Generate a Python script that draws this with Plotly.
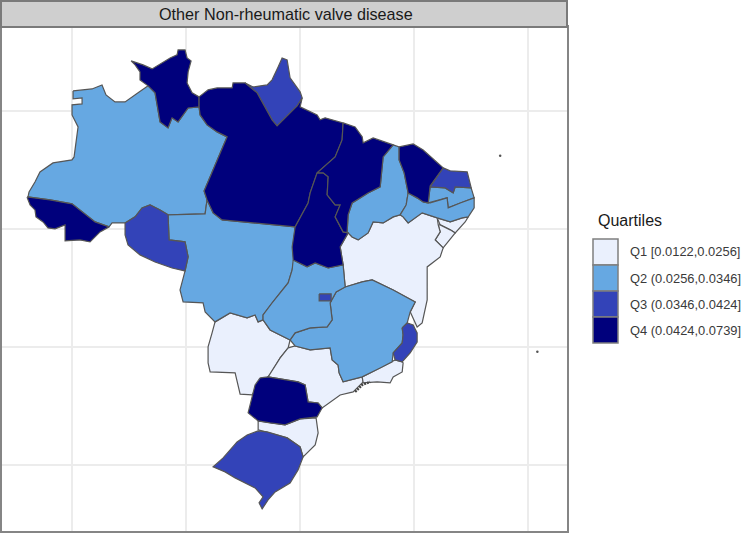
import plotly.graph_objects as go

TITLE = "Other Non-rheumatic valve disease"
LEGEND_TITLE = "Quartiles"
QUARTILE_LABELS = ["Q1 [0.0122,0.0256]", "Q2 (0.0256,0.0346]", "Q3 (0.0346,0.0424]", "Q4 (0.0424,0.0739]"]
QUARTILE_COLORS = ["#eaf0fd", "#66a8e2", "#3343b8", "#00007c"]

RR = [(-64.82,4.24),(-63.77,3.90),(-62.98,3.56),(-62.02,4.15),(-61.40,4.49),(-60.79,4.75),(-60.70,5.17),(-60.09,5.17),(-59.91,4.49),(-59.56,4.24),(-59.82,3.31),(-59.91,2.37),(-59.47,1.53),(-58.86,1.19),(-58.86,0.34),(-59.82,0.25),(-60.26,-0.34),(-60.70,-0.93),(-61.23,-0.59),(-61.58,-1.44),(-62.28,-0.93),(-62.46,0.25),(-62.72,1.53),(-63.33,2.12),(-64.04,2.63),(-64.04,3.31),(-64.47,3.90)]
AM = [(-69.91,1.69),(-68.25,1.86),(-67.37,2.20),(-67.02,1.36),(-66.23,0.76),(-65.35,0.76),(-64.21,1.53),(-63.33,2.12),(-62.72,1.53),(-62.46,0.25),(-62.28,-0.93),(-61.58,-1.44),(-61.23,-0.59),(-60.70,-0.93),(-60.26,-0.34),(-59.82,0.25),(-58.86,0.34),(-58.77,-0.34),(-58.16,-1.19),(-57.28,-1.78),(-56.40,-2.20),(-57.28,-4.15),(-58.42,-6.78),(-58.16,-7.54),(-58.33,-8.73),(-61.58,-8.81),(-62.28,-8.39),(-63.16,-7.97),(-63.86,-8.22),(-64.47,-8.98),(-65.35,-9.49),(-66.49,-9.49),(-66.75,-9.83),(-67.98,-9.41),(-69.04,-8.64),(-70.00,-7.88),(-71.93,-7.54),(-73.86,-7.29),(-73.77,-6.86),(-73.25,-6.02),(-72.81,-5.17),(-71.67,-4.41),(-70.00,-4.15),(-69.82,-3.90),(-69.47,-1.36),(-70.00,-0.34),(-70.00,0.51),(-69.12,0.59),(-69.12,1.10),(-69.91,1.02)]
AC = [(-73.95,-7.29),(-71.93,-7.54),(-70.00,-7.88),(-69.04,-8.64),(-67.98,-9.41),(-66.75,-9.83),(-67.54,-10.25),(-68.42,-11.10),(-69.30,-10.93),(-70.61,-11.02),(-70.61,-9.66),(-71.49,-10.00),(-72.11,-9.92),(-72.54,-9.41),(-73.16,-8.98),(-73.25,-8.39),(-73.68,-7.97)]
RO = [(-65.35,-9.49),(-64.47,-8.98),(-63.86,-8.22),(-63.16,-7.97),(-62.28,-8.39),(-61.58,-8.81),(-61.49,-10.93),(-60.09,-11.10),(-59.82,-12.37),(-60.09,-13.56),(-61.23,-13.31),(-62.72,-12.80),(-64.04,-12.20),(-65.09,-11.36),(-65.35,-10.51)]
MT = [(-61.58,-8.81),(-58.33,-8.73),(-58.16,-7.54),(-57.63,-8.64),(-56.84,-9.24),(-54.12,-9.49),(-50.44,-9.83),(-50.61,-11.53),(-50.53,-12.63),(-50.70,-13.47),(-51.05,-14.58),(-51.75,-15.42),(-52.46,-16.27),(-53.25,-17.29),(-53.25,-17.71),(-53.68,-17.88),(-53.95,-17.29),(-54.65,-17.54),(-56.14,-17.12),(-57.46,-17.88),(-58.33,-17.03),(-58.51,-16.27),(-60.26,-16.19),(-60.53,-15.17),(-60.09,-13.56),(-59.82,-12.37),(-60.09,-11.10),(-61.49,-10.93)]
PA = [(-58.86,1.19),(-58.07,1.78),(-57.28,1.95),(-55.96,1.95),(-55.88,2.37),(-54.82,2.37),(-53.77,1.53),(-53.07,0.34),(-52.46,-0.76),(-52.02,-1.27),(-51.32,-0.59),(-50.26,0.42),(-49.82,1.10),(-50.00,0.34),(-48.51,-0.34),(-48.25,-0.76),(-47.81,-0.59),(-46.23,-1.02),(-46.32,-2.46),(-46.93,-3.90),(-48.51,-5.25),(-49.12,-6.95),(-49.30,-7.80),(-50.44,-9.83),(-54.12,-9.49),(-56.84,-9.24),(-57.63,-8.64),(-58.16,-7.54),(-58.42,-6.78),(-57.28,-4.15),(-56.40,-2.20),(-57.28,-1.78),(-58.16,-1.19),(-58.77,-0.34),(-58.86,0.34)]
AP = [(-54.82,2.37),(-54.12,2.03),(-52.89,2.20),(-52.46,2.63),(-51.93,3.73),(-51.58,4.49),(-51.14,4.32),(-50.88,2.80),(-50.00,1.61),(-49.82,1.10),(-50.26,0.42),(-51.32,-0.59),(-52.02,-1.27),(-52.46,-0.76),(-53.07,0.34),(-53.77,1.53)]
TO = [(-48.51,-5.25),(-47.98,-5.25),(-47.54,-5.59),(-47.63,-7.12),(-46.93,-7.97),(-46.49,-7.97),(-46.93,-8.98),(-46.23,-10.25),(-45.79,-10.34),(-46.49,-11.53),(-46.23,-13.05),(-47.54,-13.31),(-48.68,-12.88),(-49.39,-13.22),(-50.61,-12.63),(-50.70,-11.53),(-50.44,-9.83),(-49.30,-7.80),(-49.12,-6.95)]
MA = [(-46.23,-1.02),(-45.18,-1.36),(-44.56,-2.20),(-44.47,-2.71),(-43.60,-2.29),(-41.84,-2.88),(-42.72,-3.90),(-42.81,-4.74),(-42.98,-6.44),(-44.04,-6.95),(-45.44,-7.80),(-45.79,-8.81),(-45.88,-10.25),(-45.79,-10.34),(-46.23,-10.25),(-46.93,-8.98),(-46.49,-7.97),(-46.93,-7.97),(-47.63,-7.12),(-47.54,-5.59),(-47.98,-5.25),(-48.51,-5.25),(-46.93,-3.90),(-46.32,-2.46)]
PI = [(-41.84,-2.88),(-41.32,-3.05),(-41.32,-4.15),(-40.88,-5.25),(-40.53,-6.95),(-40.70,-7.97),(-41.23,-8.81),(-41.84,-8.98),(-42.72,-9.49),(-43.60,-9.41),(-44.04,-10.34),(-44.91,-10.93),(-45.44,-10.68),(-45.79,-10.34),(-45.88,-10.25),(-45.79,-8.81),(-45.44,-7.80),(-44.04,-6.95),(-42.98,-6.44),(-42.81,-4.74),(-42.72,-3.90)]
CE = [(-41.32,-3.05),(-40.09,-2.80),(-39.21,-3.31),(-37.46,-4.83),(-38.60,-6.36),(-38.77,-7.80),(-39.21,-7.71),(-39.74,-7.37),(-40.53,-6.95),(-40.88,-5.25),(-41.32,-4.15)]
RN = [(-37.46,-4.83),(-36.84,-5.08),(-35.35,-5.17),(-35.00,-6.53),(-36.40,-6.44),(-36.58,-6.95),(-37.28,-6.53),(-38.60,-6.44)]
PB = [(-38.60,-6.44),(-37.28,-6.53),(-36.58,-6.95),(-36.40,-6.44),(-35.00,-6.53),(-34.74,-7.37),(-35.96,-7.80),(-37.02,-8.22),(-37.11,-7.37),(-38.60,-7.80),(-38.77,-7.80)]
PE = [(-40.70,-7.97),(-40.53,-6.95),(-39.74,-7.37),(-39.21,-7.71),(-38.77,-7.80),(-38.60,-7.80),(-37.11,-7.37),(-37.02,-8.22),(-35.96,-7.80),(-34.74,-7.37),(-34.74,-8.22),(-35.26,-8.98),(-35.79,-9.07),(-36.84,-9.41),(-37.98,-9.07),(-39.30,-8.64),(-40.53,-9.49),(-40.97,-8.98),(-41.23,-8.81)]
AL = [(-37.98,-9.07),(-36.84,-9.41),(-35.79,-9.07),(-35.26,-8.98),(-35.53,-9.41),(-36.40,-10.34),(-36.84,-10.08),(-37.72,-9.66)]
SE = [(-37.89,-9.66),(-37.72,-9.66),(-36.84,-10.08),(-36.40,-10.34),(-37.46,-11.61),(-38.16,-10.93),(-37.72,-10.25)]
BA = [(-45.79,-10.34),(-45.44,-10.68),(-44.91,-10.93),(-44.04,-10.34),(-43.60,-9.41),(-42.72,-9.49),(-41.84,-8.98),(-41.23,-8.81),(-40.97,-8.98),(-40.53,-9.49),(-39.30,-8.64),(-37.98,-9.07),(-37.89,-9.66),(-37.72,-10.25),(-38.16,-10.93),(-37.46,-11.61),(-37.72,-12.37),(-38.86,-13.22),(-38.86,-16.02),(-39.12,-17.29),(-39.30,-17.97),(-39.74,-18.31),(-40.35,-17.03),(-39.91,-16.19),(-41.84,-15.17),(-43.68,-14.32),(-44.56,-14.49),(-46.05,-14.92),(-46.23,-13.05),(-46.49,-11.53)]
ES = [(-41.05,-18.39),(-40.61,-17.97),(-40.09,-18.14),(-39.74,-18.81),(-39.74,-19.58),(-40.35,-20.51),(-41.05,-21.27),(-41.67,-21.10),(-41.84,-20.51),(-41.05,-19.66),(-40.97,-18.98)]
MG = [(-46.05,-14.92),(-44.56,-14.49),(-43.68,-14.32),(-41.84,-15.17),(-39.91,-16.19),(-40.35,-17.03),(-40.61,-17.97),(-41.05,-18.39),(-40.97,-18.98),(-41.05,-19.66),(-41.84,-20.51),(-41.93,-21.27),(-42.98,-21.78),(-44.56,-22.54),(-46.23,-22.96),(-46.58,-22.20),(-46.67,-21.53),(-47.19,-21.10),(-47.37,-20.08),(-49.12,-20.25),(-50.44,-19.92),(-50.88,-19.41),(-50.44,-18.81),(-49.12,-18.39),(-47.63,-18.31),(-47.19,-17.71),(-47.37,-16.27),(-46.84,-15.34),(-46.23,-15.00)]
GO = [(-50.61,-12.63),(-49.39,-13.22),(-48.68,-12.88),(-47.54,-13.31),(-46.23,-13.05),(-46.05,-14.92),(-46.84,-15.34),(-47.37,-16.27),(-47.19,-17.71),(-47.63,-18.31),(-49.12,-18.39),(-50.44,-18.81),(-50.88,-19.41),(-52.63,-18.56),(-53.25,-17.71),(-53.25,-17.29),(-52.46,-16.27),(-51.75,-15.42),(-51.05,-14.58),(-50.70,-13.47)]
DF = [(-48.33,-15.51),(-47.28,-15.51),(-47.28,-16.10),(-48.33,-16.10)]
MS = [(-57.46,-17.88),(-56.14,-17.12),(-54.65,-17.54),(-53.95,-17.29),(-53.68,-17.88),(-53.25,-17.71),(-52.63,-18.56),(-50.88,-19.41),(-51.05,-20.08),(-51.75,-20.93),(-52.63,-22.37),(-53.68,-23.22),(-54.21,-24.07),(-55.26,-24.00),(-55.70,-22.20),(-57.89,-22.12),(-58.07,-21.36),(-58.07,-20.00),(-57.72,-18.81)]
SP = [(-51.05,-20.08),(-50.44,-19.92),(-49.12,-20.25),(-47.37,-20.08),(-47.19,-21.10),(-46.67,-21.53),(-46.58,-22.20),(-46.23,-22.96),(-44.56,-22.54),(-44.47,-22.96),(-45.35,-23.81),(-46.49,-24.07),(-48.07,-25.17),(-48.42,-24.75),(-49.30,-24.66),(-49.56,-23.22),(-50.18,-22.96),(-52.81,-22.54),(-51.75,-20.93)]
RJ = [(-44.56,-22.54),(-42.98,-21.78),(-41.93,-21.27),(-41.67,-21.10),(-41.05,-21.27),(-40.97,-21.36),(-41.05,-22.12),(-41.84,-22.54),(-42.11,-23.05),(-43.25,-22.96),(-44.47,-23.05)]
PR = [(-53.51,-22.63),(-52.81,-22.54),(-50.18,-22.96),(-49.56,-23.22),(-49.30,-24.66),(-48.42,-24.75),(-48.07,-25.17),(-48.51,-25.93),(-50.00,-26.10),(-51.32,-26.61),(-52.63,-26.44),(-53.68,-26.27),(-54.56,-25.59),(-54.21,-24.07),(-53.95,-23.22)]
SC = [(-53.68,-26.27),(-52.63,-26.44),(-51.32,-26.61),(-50.00,-26.10),(-48.60,-26.02),(-48.42,-27.29),(-48.68,-28.31),(-49.74,-29.32),(-50.00,-28.47),(-51.14,-27.71),(-52.89,-27.20),(-53.68,-27.03)]
RS = [(-53.68,-27.12),(-52.89,-27.20),(-51.14,-27.71),(-50.00,-28.47),(-49.74,-29.32),(-50.18,-30.42),(-50.88,-31.53),(-52.19,-32.29),(-52.81,-32.97),(-53.33,-33.73),(-53.60,-33.22),(-53.25,-32.71),(-53.95,-31.95),(-55.70,-31.10),(-56.58,-30.59),(-57.63,-30.17),(-56.75,-29.41),(-55.53,-28.05),(-54.65,-27.46)]

ISLAND_LON = [-32.46, -29.20]
ISLAND_LAT = [-3.81, -20.42]
BAY_ISLANDS = [(-45.18,-23.81),(-44.56,-23.22),(-43.86,-22.96)]

Q1_STATES = {"AL": AL, "SE": SE, "BA": BA, "MS": MS, "SP": SP, "RJ": RJ, "SC": SC}
Q2_STATES = {"AM": AM, "MT": MT, "PI": PI, "PB": PB, "PE": PE, "MG": MG, "GO": GO}
Q3_STATES = {"RO": RO, "AP": AP, "RN": RN, "ES": ES, "DF": DF, "RS": RS}
Q4_STATES = {"RR": RR, "AC": AC, "PA": PA, "TO": TO, "MA": MA, "CE": CE, "PR": PR}
GROUPS = [Q1_STATES, Q2_STATES, Q3_STATES, Q4_STATES]

BORDER = "#565656"
fig = go.Figure()
for group, color, label in zip(GROUPS, QUARTILE_COLORS, QUARTILE_LABELS):
    for code, pts in group.items():
        xs = [p[0] for p in pts] + [pts[0][0]]
        ys = [p[1] for p in pts] + [pts[0][1]]
        fig.add_trace(go.Scatter(x=xs, y=ys, mode="lines", fill="toself", fillcolor=color,
                                 line=dict(color=BORDER, width=1.2), name=code, text=label,
                                 hoverinfo="name+text", showlegend=False))

fig.add_trace(go.Scatter(x=[p[0] for p in BAY_ISLANDS], y=[p[1] for p in BAY_ISLANDS], mode="lines",
                         line=dict(color="#444444", width=2.5, dash="2px,1px"), showlegend=False, hoverinfo="skip"))
fig.add_trace(go.Scatter(x=ISLAND_LON, y=ISLAND_LAT, mode="markers",
                         marker=dict(color="#555555", size=2.5), showlegend=False, hoverinfo="skip"))

# panel geometry in page pixels
L, R, T, B = 2, 567, 27, 531
W, H = 750, 541
def px(x): return (x - L) / (R - L)
def py(y): return (B - y) / (B - T)

shapes = [dict(type="rect", xref="paper", yref="paper", x0=px(1), x1=px(567), y0=py(27), y1=py(1),
               fillcolor="#cfcfcf", line=dict(color="#7a7a7a", width=2), layer="above")]
annotations = [dict(text=TITLE, xref="paper", yref="paper", x=px(285.5), y=py(14), xanchor="center", yanchor="middle",
                    showarrow=False, font=dict(family="Liberation Sans, Arial, sans-serif", size=16.2, color="#1a1a1a")),
               dict(text=LEGEND_TITLE, xref="paper", yref="paper", x=px(596), y=py(221), xanchor="left", yanchor="middle",
                    showarrow=False, font=dict(family="Liberation Sans, Arial, sans-serif", size=16, color="#1a1a1a"))]
for i, (color, label) in enumerate(zip(QUARTILE_COLORS, QUARTILE_LABELS)):
    top = 239 + i * 26
    shapes.append(dict(type="rect", xref="paper", yref="paper", x0=px(593), x1=px(618),
                       y0=py(top), y1=py(top + 26), fillcolor=color, line=dict(color="#7f7f7f", width=1.5)))
    annotations.append(dict(text=label, xref="paper", yref="paper", x=px(628), y=py(top + 13), xanchor="left", yanchor="middle",
                            showarrow=False, font=dict(family="Liberation Sans, Arial, sans-serif", size=12.9, color="#3a3a3a")))

axis = dict(showgrid=True, gridcolor="#ececec", gridwidth=1.5, zeroline=False, showticklabels=False,
            ticks="", showline=True, linecolor="#858585", linewidth=2, mirror=True, dtick=10)
fig.update_layout(
    width=W, height=H, autosize=False, paper_bgcolor="white", plot_bgcolor="white",
    margin=dict(l=L, r=W - R, t=T, b=H - B, pad=0), showlegend=False,
    xaxis=dict(axis, range=[-76.14, -26.60], tick0=-70),
    yaxis=dict(axis, range=[-35.60, 7.11], tick0=0),
    shapes=shapes, annotations=annotations,
)
fig.write_html("out.html", config=dict(displayModeBar=False),
               post_script="document.body.style.margin='0';document.documentElement.style.overflow='hidden';")
